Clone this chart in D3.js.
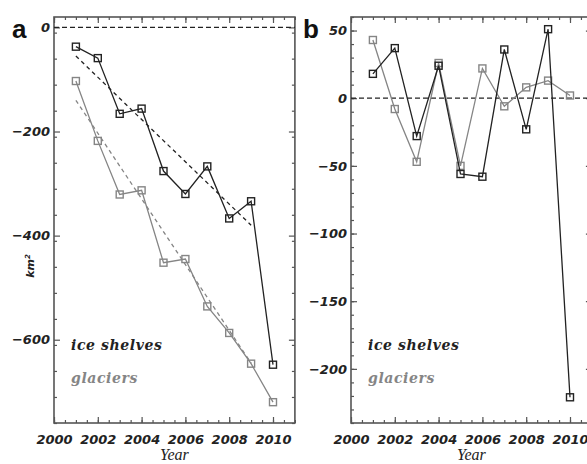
<!DOCTYPE html>
<html>
<head>
<meta charset="utf-8">
<script src="https://cdn.jsdelivr.net/npm/d3@7"></script>
<style>
  html, body { margin: 0; padding: 0; background: #fff; overflow: hidden; }
  .tick text { font-family: "DejaVu Sans", sans-serif; font-weight: bold; font-style: italic; font-size: 13px; fill: #222; }
  .legend { font-family: "DejaVu Serif", serif; font-weight: bold; font-style: italic; font-size: 14px; letter-spacing: 0.6px; }
</style>
</head>
<body>
<svg id="chart" width="587" height="464"></svg>
<script>
// values
var years = [2001, 2002, 2003, 2004, 2005, 2006, 2007, 2008, 2009, 2010];

// a: cumulative change (km^2)
var shelvesCum = [-37, -59, -166, -156, -276, -320, -267, -367, -334, -648];
var glaciersCum = [-103, -218, -321, -313, -452, -445, -536, -587, -646, -720];
var trendYears = [2001, 2009];
var shelvesTrend = [-55, -380];
var glaciersTrend = [-140, -645];

// b: yearly change (km^2)
var shelvesRate = [18, 37, -28, 24, -56, -58, 36, -23, 51, -221];
var glaciersRate = [43, -8, -47, 26, -50, 22, -6, 8, 13, 2];

var xMajor = [2000, 2002, 2004, 2006, 2008, 2010];
var yMajorA = [-600, -400, -200, 0];
var yMajorB = [-200, -150, -100, -50, 0, 50];

var dark = '#222', grey = '#858585', frame = '#555';
var plotTop = 17, plotBottom = 423;

var svg = d3.select('#chart');

function panel(opt) {
  var x = d3.scaleLinear().domain([2000, 2011]).range([opt.left, opt.left + 240.9]);
  var y = d3.scaleLinear().domain(opt.yDomain).range([plotBottom, plotTop]);
  var g = svg.append('g');

  var xMinor = d3.range(2000, 2011.01, 0.5);
  var yMinor = d3.range(opt.yDomain[0], opt.yDomain[1] + 0.01, opt.yMinorStep)
    .filter(d => d >= opt.yDomain[0]);

  function addAxis(axis, tx, ty) {
    var a = g.append('g').attr('transform', 'translate(' + tx + ',' + ty + ')').call(axis);
    a.select('.domain').remove();
    a.selectAll('line').attr('stroke', frame).attr('stroke-width', 1.2);
    return a;
  }
  // minor ticks, all four sides
  addAxis(d3.axisBottom(x).tickValues(xMinor).tickSize(-3).tickFormat(''), 0, plotBottom);
  addAxis(d3.axisTop(x).tickValues(xMinor).tickSize(-3).tickFormat(''), 0, plotTop);
  addAxis(d3.axisLeft(y).tickValues(yMinor).tickSize(-3).tickFormat(''), x.range()[0], 0);
  addAxis(d3.axisRight(y).tickValues(yMinor).tickSize(-3).tickFormat(''), x.range()[1], 0);
  // major ticks
  addAxis(d3.axisBottom(x).tickValues(xMajor).tickSize(-6).tickPadding(12).tickFormat(d3.format('d')), 0, plotBottom);
  addAxis(d3.axisTop(x).tickValues(xMajor).tickSize(-6).tickFormat(''), 0, plotTop);
  addAxis(d3.axisLeft(y).tickValues(opt.yMajor).tickSize(-6).tickPadding(4), x.range()[0], 0);
  addAxis(d3.axisRight(y).tickValues(opt.yMajor).tickSize(-6).tickFormat(''), x.range()[1], 0);

  // frame
  g.append('rect')
    .attr('x', x.range()[0]).attr('y', plotTop)
    .attr('width', x.range()[1] - x.range()[0]).attr('height', plotBottom - plotTop)
    .attr('fill', 'none').attr('stroke', frame).attr('stroke-width', 1.6);

  // zero line
  g.append('line')
    .attr('x1', x.range()[0]).attr('x2', x.range()[1])
    .attr('y1', y(0)).attr('y2', y(0))
    .attr('stroke', dark).attr('stroke-width', 1.3).attr('stroke-dasharray', '5,3');

  // trend lines
  (opt.trends || []).forEach(function(t) {
    g.append('line')
      .attr('x1', x(trendYears[0])).attr('x2', x(trendYears[1]))
      .attr('y1', y(t.values[0])).attr('y2', y(t.values[1]))
      .attr('stroke', t.color).attr('stroke-width', 1.3).attr('stroke-dasharray', '4,3.5');
  });

  var line = d3.line().x(d => x(d[0])).y(d => y(d[1]));
  opt.series.forEach(function(s) {
    var pts = years.map((yr, i) => [yr, s.values[i]]);
    g.append('path').datum(pts)
      .attr('d', line).attr('fill', 'none')
      .attr('stroke', s.color).attr('stroke-width', 1.3);
    g.selectAll(null).data(pts).enter().append('rect')
      .attr('x', d => x(d[0]) - 3.5).attr('y', d => y(d[1]) - 3.5)
      .attr('width', 7).attr('height', 7)
      .attr('fill', 'none').attr('stroke', s.color).attr('stroke-width', 1.4);
  });

  // legend
  g.append('text').attr('class', 'legend').attr('x', x.range()[0] + 17).attr('y', 350)
    .attr('fill', dark).text('ice shelves');
  g.append('text').attr('class', 'legend').attr('x', x.range()[0] + 17).attr('y', 382.5)
    .attr('fill', grey).text('glaciers');

  // axis title
  g.append('text')
    .attr('x', (x.range()[0] + x.range()[1]) / 2).attr('y', 460)
    .attr('text-anchor', 'middle')
    .style('font-family', '"Liberation Serif", serif').style('font-style', 'italic')
    .style('font-size', '16px').attr('fill', dark)
    .text('Year');

  // panel letter
  g.append('text')
    .attr('x', opt.letterX).attr('y', 38)
    .style('font-family', '"Liberation Sans", Arial, sans-serif').style('font-weight', 'bold')
    .style('font-size', '26px').attr('fill', '#111')
    .text(opt.letter);

  return g;
}

panel({
  left: 54, yDomain: [-760, 20], yMajor: yMajorA, yMinorStep: 50,
  letter: 'a', letterX: 12,
  trends: [{ values: shelvesTrend, color: dark }, { values: glaciersTrend, color: grey }],
  series: [{ values: glaciersCum, color: grey }, { values: shelvesCum, color: dark }]
});

panel({
  left: 351, yDomain: [-240, 60], yMajor: yMajorB, yMinorStep: 10,
  letter: 'b', letterX: 303,
  series: [{ values: glaciersRate, color: grey }, { values: shelvesRate, color: dark }]
});

// y axis title, panel a
svg.append('text')
  .attr('transform', 'translate(34,266) rotate(-90)')
  .attr('text-anchor', 'middle')
  .style('font-family', '"DejaVu Sans", sans-serif').style('font-weight', 'bold')
  .style('font-style', 'italic').style('font-size', '11px').attr('fill', dark)
  .html('km<tspan dy="-4" font-size="7px">2</tspan>');
</script>
</body>
</html>
